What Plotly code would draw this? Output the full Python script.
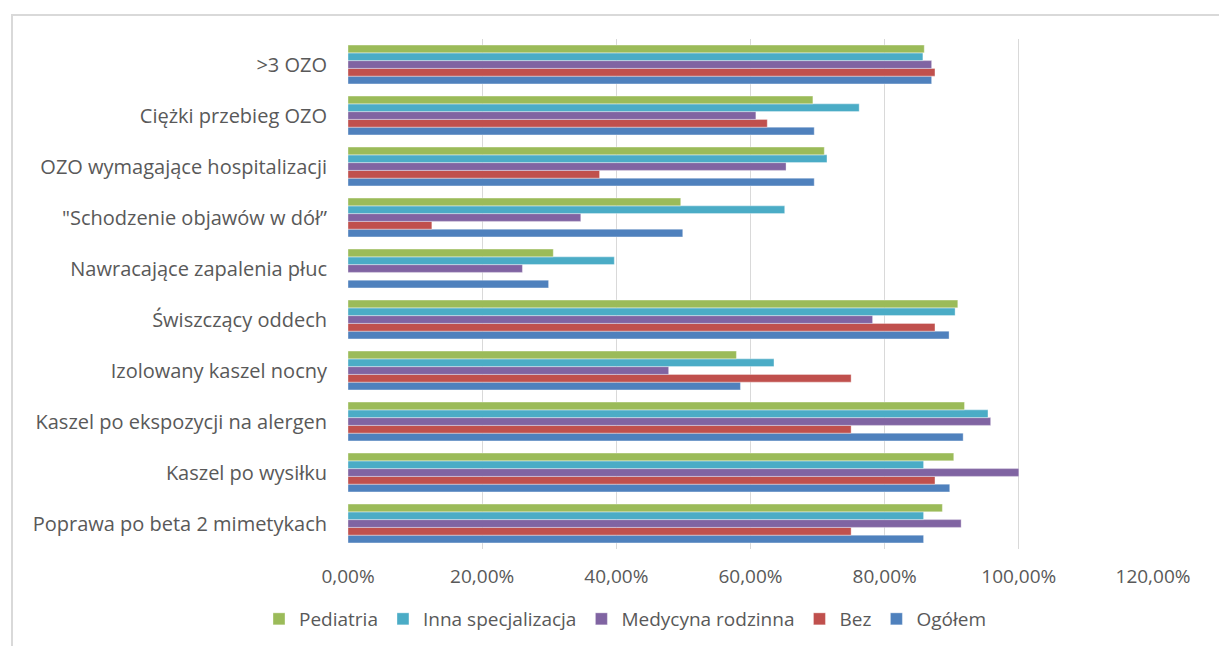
import plotly.graph_objects as go

categories = [
    "Poprawa po beta 2 mimetykach",
    "Kaszel po wysiłku",
    "Kaszel po ekspozycji na alergen",
    "Izolowany kaszel nocny",
    "Świszczący oddech",
    "Nawracające zapalenia płuc",
    "\"Schodzenie objawów w dół”",
    "OZO wymagające hospitalizacji",
    "Ciężki przebieg OZO",
    ">3 OZO",
]

ogolem = [0.858, 0.897, 0.917, 0.585, 0.896, 0.299, 0.499, 0.695, 0.695, 0.870]
bez = [0.750, 0.875, 0.750, 0.750, 0.875, 0.0, 0.125, 0.375, 0.625, 0.875]
medycyna = [0.914, 1.000, 0.958, 0.478, 0.782, 0.260, 0.347, 0.653, 0.608, 0.870]
inna = [0.858, 0.858, 0.954, 0.635, 0.905, 0.397, 0.651, 0.714, 0.762, 0.857]
pediatria = [0.886, 0.903, 0.919, 0.579, 0.909, 0.306, 0.496, 0.710, 0.693, 0.859]

series_names = ["Ogółem", "Bez", "Medycyna rodzinna", "Inna specjalizacja", "Pediatria"]
series_values = [ogolem, bez, medycyna, inna, pediatria]
colors = ["#4F81BD", "#C0504D", "#8064A2", "#4BACC6", "#9BBB59"]

xticks = [0, 0.2, 0.4, 0.6, 0.8, 1.0, 1.2]

FONT = "Open Sans"
GRAY = "#595959"

fig = go.Figure()
for name, vals, col in zip(series_names, series_values, colors):
    fig.add_trace(go.Bar(
        y=categories, x=vals, name=name, orientation="h",
        marker=dict(color=col, line=dict(color="rgba(255,255,255,0.6)", width=0.6)),
    ))

W, H = 1219, 646
L, R, T, B = 348, 66, 39, 97
pw, ph = W - L - R, H - T - B

fig.update_layout(
    width=W, height=H,
    margin=dict(l=L, r=R, t=T, b=B, autoexpand=False),
    barmode="group", bargap=0.24, bargroupgap=0,
    plot_bgcolor="white", paper_bgcolor="white",
    separators=", ",
    font=dict(family=FONT, size=17, color=GRAY),
    xaxis=dict(
        range=[0, 1.2], tickvals=xticks, tickformat=".2%",
        showgrid=True, gridcolor="#D9D9D9", gridwidth=1,
        zeroline=False, showline=False, ticks="",
        ticklabelstandoff=14, automargin=False,
        tickfont=dict(family=FONT, size=19, color=GRAY),
        fixedrange=True,
    ),
    yaxis=dict(
        showgrid=False, zeroline=False, showline=False, ticks="",
        ticklabelstandoff=20, automargin=False,
        tickfont=dict(family=FONT, size=20, color=GRAY),
        fixedrange=True,
    ),
    legend=dict(
        orientation="h", traceorder="reversed",
        xref="container", x=625 / W, xanchor="center",
        yref="container", y=(H - 600) / H, yanchor="top",
        font=dict(family=FONT, size=19, color=GRAY),
        itemwidth=30,
    ),
    shapes=[
        dict(type="rect", xref="paper", yref="paper",
             x0=(12 - L) / pw, x1=1.2, y0=-0.5, y1=(H - B - 15) / ph,
             line=dict(color="#D9D9D9", width=2), fillcolor="rgba(0,0,0,0)",
             layer="below"),
    ],
)

fig.write_html("out.html")
